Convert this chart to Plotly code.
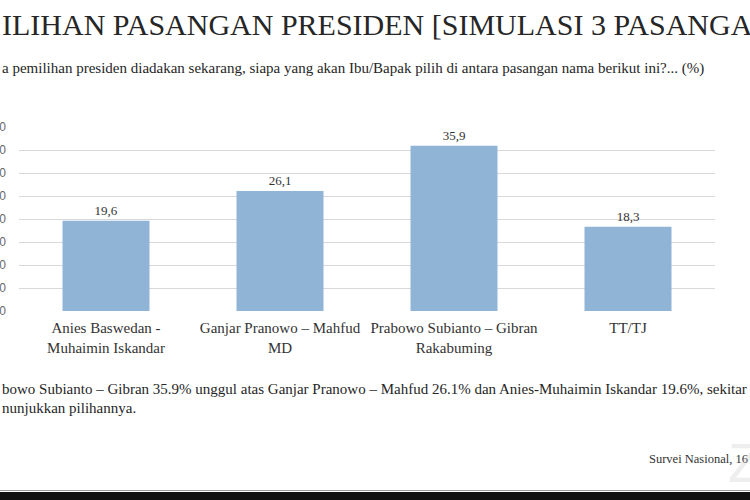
import plotly.graph_objects as go

categories = ["Anies Baswedan -<br>Muhaimin Iskandar",
              "Ganjar Pranowo – Mahfud<br>MD",
              "Prabowo Subianto – Gibran<br>Rakabuming",
              "TT/TJ"]
values = [19.6, 26.1, 35.9, 18.3]
value_labels = ["19,6", "26,1", "35,9", "18,3"]
tick_vals = [0, 5, 10, 15, 20, 25, 30, 35, 40]
tick_text = ["0,0", "5,0", "10,0", "15,0", "20,0", "25,0", "30,0", "35,0", "40,0"]

W, H = 750, 500
L, R, T, B = 19, 35, 127, 189
PW, PH = W - L - R, H - T - B

def px(x):
    return (x - L) / PW

def py(y):
    return (H - B - y) / PH

SERIF = "Liberation Serif"

fig = go.Figure()
fig.add_trace(go.Bar(
    x=categories, y=values, text=value_labels, textposition="outside",
    marker=dict(color="#8FB4D5", line=dict(width=0)),
    textfont=dict(family=SERIF, size=13, color="#333333"),
    cliponaxis=False, width=0.5,
))

fig.update_layout(
    width=W, height=H, margin=dict(l=L, r=R, t=T, b=B, autoexpand=False),
    paper_bgcolor="white", plot_bgcolor="white", showlegend=False,
    xaxis=dict(tickfont=dict(family=SERIF, size=15, color="#333333"),
               showgrid=False, zeroline=False, showline=False, ticks="",
               ticklabelstandoff=6),
    yaxis=dict(range=[0, 40], tickvals=tick_vals, ticktext=tick_text,
               showgrid=True, gridcolor="#D9D9D9", gridwidth=1,
               zeroline=False, showline=False, ticks="",
               tickfont=dict(family="Liberation Sans", size=12, color="#666666"),
               ticklabelstandoff=12),
)

anns = [
    dict(text="ILIHAN PASANGAN PRESIDEN [SIMULASI 3 PASANGA", x=px(0), y=py(24),
         size=30, color="#262626"),
    dict(text="a pemilihan presiden diadakan sekarang, siapa yang akan Ibu/Bapak pilih di antara pasangan nama berikut ini?... (%)",
         x=px(0), y=py(68), size=15, color="#262626"),
    dict(text="bowo Subianto – Gibran 35.9% unggul atas Ganjar Pranowo – Mahfud 26.1% dan Anies-Muhaimin Iskandar 19.6%, sekitar",
         x=px(0), y=py(389), size=15, color="#262626"),
    dict(text="nunjukkan pilihannya.", x=px(0), y=py(408), size=15, color="#262626"),
    dict(text="Survei Nasional, 16", x=px(647), y=py(459), size=12.5, color="#333333"),
]
for a in anns:
    fig.add_annotation(text=a["text"], x=a["x"], y=a["y"], xref="paper", yref="paper",
                       xanchor="left", yanchor="middle", showarrow=False,
                       font=dict(family=SERIF, size=a["size"], color=a["color"]))

fig.add_annotation(text="Z", x=px(745), y=py(462), xref="paper", yref="paper",
                   showarrow=False, xanchor="center", yanchor="middle",
                   font=dict(family="Liberation Sans", size=56, color="rgba(200,200,200,0.3)"))

fig.add_shape(type="rect", xref="paper", yref="paper", x0=px(0), x1=px(750),
              y0=py(500), y1=py(492), fillcolor="#111111", line=dict(width=0), layer="above")
fig.add_shape(type="line", xref="paper", yref="paper", x0=px(0), x1=px(750),
              y0=py(490.5), y1=py(490.5), line=dict(color="#9A9A9A", width=1))

fig.write_html("out.html")
